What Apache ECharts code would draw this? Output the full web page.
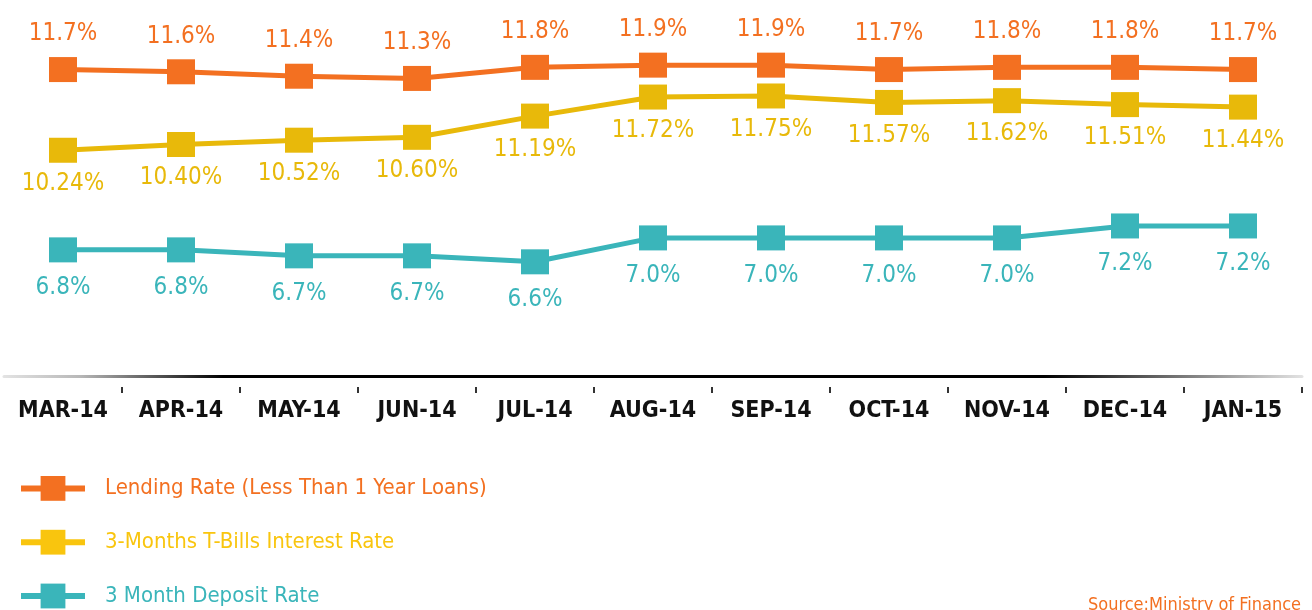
<!DOCTYPE html>
<html>
<head>
<meta charset="utf-8">
<script src="https://cdn.jsdelivr.net/npm/echarts@6/dist/echarts.min.js"></script>
<style>
  html, body { margin: 0; padding: 0; background: #fff; }
  #chart { width: 1312px; height: 610px; }
</style>
</head>
<body>
<div id="chart"></div>
<script>
const months = ['MAR-14', 'APR-14', 'MAY-14', 'JUN-14', 'JUL-14', 'AUG-14', 'SEP-14', 'OCT-14', 'NOV-14', 'DEC-14', 'JAN-15'];
const lendingRate = [11.7, 11.6, 11.4, 11.3, 11.8, 11.9, 11.9, 11.7, 11.8, 11.8, 11.7];
const tBillRate = [10.24, 10.40, 10.52, 10.60, 11.19, 11.72, 11.75, 11.57, 11.62, 11.51, 11.44];
const depositRate = [6.8, 6.8, 6.7, 6.7, 6.6, 7.0, 7.0, 7.0, 7.0, 7.2, 7.2];
const seriesNames = ['Lending Rate (Less Than 1 Year Loans)', '3-Months T-Bills Interest Rate', '3 Month Deposit Rate'];

const orange = '#F37021';
const yellow = '#E8B90A';
const yellowLight = '#F9C50E';
const teal = '#3AB5BA';
const narrow = "'Liberation Sans Narrow', 'DejaVu Sans Condensed', sans-serif";

let ctx = document.getElementById('chart');
let chart = echarts.init(ctx);

function pct(digits) {
    return p => p.value.toFixed(digits) + '%';
}

function lineSeries(name, data, color, labelColor, axisIdx, pos, dist, digits) {
    return {
        name: name,
        type: 'line',
        yAxisIndex: axisIdx,
        data: data,
        symbol: 'rect',
        symbolSize: [28, 25],
        showAllSymbol: true,
        lineStyle: { color: color, width: 5 },
        itemStyle: { color: color },
        label: {
            show: true,
            position: pos,
            distance: dist,
            color: labelColor,
            fontFamily: narrow,
            fontSize: 24,
            formatter: pct(digits)
        },
        emphasis: { disabled: true },
        animation: false
    };
}

let option = {
    backgroundColor: '#fff',
    title: {
        text: 'Source:Ministry of Finance',
        left: 1088,
        top: 596,
        padding: 0,
        textStyle: { color: orange, fontFamily: narrow, fontSize: 18, fontWeight: 'normal' }
    },
    legend: {
        orient: 'vertical',
        left: 18,
        top: 476,
        itemWidth: 64,
        itemHeight: 31,
        itemGap: 29,
        padding: 0,
        selectedMode: false,
        lineStyle: { width: 6 },
        textStyle: { fontFamily: narrow, fontSize: 22, padding: [0, 0, 0, 15] },
        data: [
            { name: seriesNames[0], itemStyle: { color: orange }, lineStyle: { color: orange }, textStyle: { color: orange } },
            { name: seriesNames[1], itemStyle: { color: yellowLight }, lineStyle: { color: yellowLight }, textStyle: { color: yellowLight } },
            { name: seriesNames[2], itemStyle: { color: teal }, lineStyle: { color: teal }, textStyle: { color: teal } }
        ]
    },
    grid: { left: 4, right: 10, top: 0, bottom: 234, outerBoundsMode: 'none', containLabel: false },
    xAxis: {
        type: 'category',
        data: months,
        boundaryGap: true,
        axisLine: {
            onZero: false,
            lineStyle: {
                width: 3,
                color: new echarts.graphic.LinearGradient(0, 0, 1, 0, [
                    { offset: 0, color: '#e4e4e4' },
                    { offset: 0.06, color: '#b8b8b8' },
                    { offset: 0.17, color: '#000' },
                    { offset: 0.8, color: '#000' },
                    { offset: 1, color: '#e4e4e4' }
                ])
            }
        },
        axisTick: {
            show: true,
            length: 17,
            interval: (i) => i > 0,
            lineStyle: { color: '#333', width: 2, type: [0, 11, 6, 40] }
        },
        axisLabel: {
            interval: 0,
            margin: 24,
            color: '#111',
            fontFamily: narrow,
            fontWeight: 'bold',
            fontSize: 23
        }
    },
    // one hidden scale per line, the infographic draws each line on its own scale
    yAxis: [
        { type: 'value', show: false, min: -2.13, max: 14.84, splitLine: { show: false } },
        { type: 'value', show: false, min: 3.96, max: 14.42, splitLine: { show: false } },
        { type: 'value', show: false, min: 4.69, max: 10.98, splitLine: { show: false } }
    ],
    series: [
        lineSeries(seriesNames[1], tBillRate, yellow, yellow, 1, 'bottom', 9, 2),
        lineSeries(seriesNames[2], depositRate, teal, teal, 2, 'bottom', 13, 1),
        lineSeries(seriesNames[0], lendingRate, orange, orange, 0, 'top', 11, 1)
    ]
};

chart.setOption(option, true);

window.onresize = () => {
    chart.resize();
};
</script>
</body>
</html>
